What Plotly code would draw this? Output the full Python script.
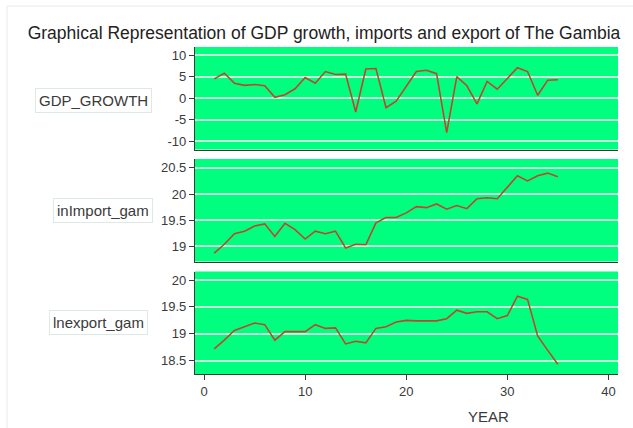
import plotly.graph_objects as go

# Years are indexed 1..35
year = list(range(1, 36))

gdp_growth = [4.5, 5.8, 3.5, 3.0, 3.2, 2.9, 0.2, 0.8, 2.2, 4.8,
              3.5, 6.2, 5.5, 5.6, -3.2, 6.8, 6.9, -2.2, -0.7, 2.8,
              6.2, 6.5, 5.7, -8.0, 5.0, 2.9, -1.3, 3.9, 2.1, 4.6,
              7.1, 6.2, 0.7, 4.2, 4.3]

ln_import = [18.87, 19.04, 19.24, 19.29, 19.39, 19.43, 19.19, 19.44, 19.32, 19.14,
             19.29, 19.24, 19.29, 18.97, 19.04, 19.03, 19.45, 19.55, 19.55, 19.64,
             19.76, 19.74, 19.81, 19.71, 19.78, 19.72, 19.91, 19.93, 19.91, 20.12,
             20.35, 20.25, 20.35, 20.40, 20.33]

ln_export = [18.72, 18.88, 19.06, 19.13, 19.20, 19.17, 18.88, 19.04, 19.04, 19.04,
             19.17, 19.10, 19.11, 18.81, 18.86, 18.83, 19.10, 19.13, 19.22, 19.25,
             19.24, 19.24, 19.24, 19.28, 19.44, 19.38, 19.41, 19.41, 19.28, 19.34,
             19.70, 19.64, 18.96, 18.69, 18.43]

panel_names = ["GDP_GROWTH", "inImport_gam", "lnexport_gam"]
x_ticks = [0, 10, 20, 30, 40]
y_ticks = [[-10, -5, 0, 5, 10], [19, 19.5, 20, 20.5], [18.5, 19, 19.5, 20]]
y_tick_text = [["-10", "-5", "0", "5", "10"], ["19", "19.5", "20", "20.5"], ["18.5", "19", "19.5", "20"]]
y_ranges = [[-11.9, 11.9], [18.71, 20.67], [18.25, 20.16]]

W, H = 633, 428
L, R, T, B = 195, 15, 47, 54
plot_h = H - T - B
plot_w = W - L - R

def py(p):
    return (H - B - p) / plot_h

def px(p):
    return (p - L) / plot_w

# panel pixel bands (top, bottom)
bands = [(47, 149.5), (159, 261.5), (271.5, 374)]

GREEN = "#00ff7f"
LINE = "#c0452f"
GRID = "#c4ffdc"
AX = "#3a3a3a"
TXT = "#3a3a3a"

fig = go.Figure()
series = [gdp_growth, ln_import, ln_export]
for i, s in enumerate(series):
    suffix = "" if i == 0 else str(i + 1)
    fig.add_trace(go.Scatter(x=year, y=s, mode="lines",
                             line=dict(color=LINE, width=1.6),
                             xaxis="x" + suffix, yaxis="y" + suffix,
                             showlegend=False, hoverinfo="skip"))

layout = dict(
    width=W, height=H,
    margin=dict(l=L, r=R, t=T, b=B),
    paper_bgcolor="white",
    plot_bgcolor=GREEN,
    font=dict(family="Liberation Sans, Arial, sans-serif", color=TXT, size=13),
    title=dict(text="Graphical Representation of GDP growth, imports and export of The Gambia",
               x=324 / W, xanchor="center", y=1 - 33 / H, yanchor="middle",
               font=dict(size=17.5, color="#222222")),
)

for i in range(3):
    suffix = "" if i == 0 else str(i + 1)
    top, bot = bands[i]
    last = i == 2
    layout["xaxis" + suffix] = dict(
        domain=[0, 1], range=[-0.9, 40.95], anchor="y" + suffix,
        showgrid=False, zeroline=False,
        showline=True, linecolor=AX, linewidth=1,
        tickmode="array", tickvals=x_ticks,
        showticklabels=last, ticks="outside" if last else "",
        ticklen=5, tickcolor=AX, tickfont=dict(size=13, color=TXT),
        matches=None if i == 0 else "x",
    )
    layout["yaxis" + suffix] = dict(
        domain=[py(bot), py(top)], range=y_ranges[i], anchor="x" + suffix,
        showgrid=True, gridcolor=GRID, gridwidth=1.5, zeroline=False,
        showline=True, linecolor=AX, linewidth=1.2,
        tickmode="array", tickvals=y_ticks[i], ticktext=y_tick_text[i],
        ticks="outside", ticklen=5, tickcolor=AX,
        tickfont=dict(size=13, color=TXT),
    )

fig.update_layout(**layout)

# panel name boxes on the left
label_pos = [(152, 100), (153, 211), (148, 322)]
for name, (xr, yc) in zip(panel_names, label_pos):
    fig.add_annotation(text=name, xref="paper", yref="paper",
                       x=px(xr), y=py(yc), xanchor="right", yanchor="middle",
                       showarrow=False, font=dict(size=15, color=TXT),
                       bgcolor="white", bordercolor="#dde9e9", borderwidth=1,
                       borderpad=3)

# x-axis title
fig.add_annotation(text="YEAR", xref="paper", yref="paper",
                   x=px(488), y=py(416), xanchor="center", yanchor="middle",
                   showarrow=False, font=dict(size=15, color=TXT))

# outer frame around the graph
fig.add_shape(type="rect", xref="paper", yref="paper",
              x0=px(7), x1=px(660), y0=py(450), y1=py(6),
              line=dict(color="#e6ecec", width=1), fillcolor="rgba(0,0,0,0)",
              layer="below")

fig.write_html("out.html")
